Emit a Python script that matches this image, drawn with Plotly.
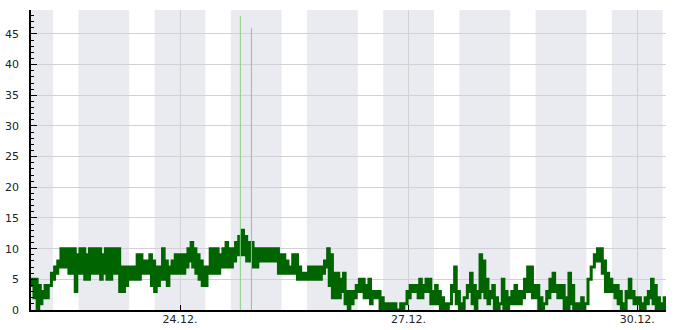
import pandas as pd
import plotly.graph_objects as go

# hourly envelope (low / high) of the series, hour index from 2019-12-22 00:00
hours = list(range(1, 202))
low = [4, 2, 0, 1, 2, 2, 4, 5, 6, 7, 7, 7, 6, 6, 3, 6, 6, 5, 5, 6, 6, 6, 5, 6,
       5, 5, 6, 6, 3, 3, 4, 5, 5, 5, 5, 6, 6, 6, 4, 3, 4, 5, 5, 4, 6, 6, 6, 6,
       6, 7, 8, 7, 6, 5, 4, 4, 6, 6, 6, 6, 7, 7, 7, 7, 8, 9, 9, 9, 8, 8, 7, 7,
       8, 8, 8, 8, 8, 8, 6, 6, 6, 6, 6, 6, 5, 5, 5, 5, 5, 5, 5, 5, 6, 7, 4, 2,
       2, 2, 3, 1, 0, 1, 2, 3, 3, 2, 2, 1, 2, 2, 0, 0, 0, 0, 0, 0, 0, 0, 1, 2,
       3, 3, 2, 2, 3, 3, 1, 1, 1, 0, 0, 0, 1, 3, 1, 0, 0, 2, 3, 1, 0, 2, 3, 2,
       1, 2, 0, 0, 1, 0, 0, 1, 1, 1, 1, 2, 3, 3, 2, 2, 0, 0, 1, 2, 3, 3, 2, 2,
       0, 0, 1, 0, 0, 0, 0, 1, 5, 7, 8, 8, 6, 3, 3, 3, 2, 1, 0, 0, 2, 2, 1, 1,
       0, 0, 1, 2, 1, 0, 0, 0, 0]
high = [5, 5, 4, 3, 4, 4, 6, 7, 8, 10, 10, 10, 10, 10, 9, 10, 10, 9, 10, 10, 10, 10, 9, 10,
        10, 10, 10, 10, 7, 7, 7, 7, 7, 9, 9, 8, 8, 9, 8, 7, 7, 10, 8, 7, 8, 9, 9, 9,
        9, 10, 11, 10, 9, 8, 7, 7, 10, 10, 10, 9, 10, 11, 10, 10, 11, 12, 13, 12, 11, 11, 10, 10,
        10, 10, 10, 10, 10, 10, 9, 9, 8, 7, 9, 9, 7, 6, 6, 7, 7, 7, 7, 7, 8, 10, 9, 6,
        6, 5, 6, 3, 3, 3, 4, 5, 5, 4, 5, 3, 3, 3, 2, 1, 1, 1, 1, 0, 1, 1, 3, 4,
        4, 4, 5, 4, 5, 5, 3, 4, 3, 2, 1, 1, 4, 7, 3, 1, 2, 4, 6, 4, 3, 9, 8, 5,
        3, 4, 2, 1, 5, 3, 2, 3, 4, 3, 3, 5, 7, 7, 4, 4, 2, 1, 3, 5, 6, 4, 4, 4,
        2, 6, 4, 1, 1, 2, 1, 5, 7, 9, 10, 10, 8, 6, 5, 4, 4, 3, 1, 3, 5, 3, 2, 2,
        1, 2, 3, 5, 4, 2, 1, 2, 1]

# event markers
event_times = ["2019-12-24 19:00", "2019-12-24 22:30"]
event_values = [47.9, 46.0]
event_colors = ["#7fd37f", "#8fc48f"]

# night shading (16:00 -> 08:00)
night_days = pd.date_range("2019-12-21", "2019-12-29", freq="D")

base = pd.Timestamp("2019-12-22 00:00")
xs, ys = [], []
for h, lo, hi in zip(hours, low, high):
    t = base + pd.Timedelta(hours=h)
    xs += [t, t + pd.Timedelta(minutes=30)]
    ys += [lo, hi]

fig = go.Figure()
fig.add_trace(go.Scatter(x=xs, y=ys, mode="lines", line_shape="hv",
                         line=dict(color="#006400", width=3), showlegend=False,
                         hoverinfo="skip"))
for t, v, c in zip(event_times, event_values, event_colors):
    fig.add_trace(go.Scatter(x=[t, t], y=[0, v], mode="lines",
                             line=dict(color=c, width=1), showlegend=False))

for d in night_days:
    fig.add_shape(type="rect", xref="x", yref="paper",
                  x0=d + pd.Timedelta(hours=16), x1=d + pd.Timedelta(hours=32),
                  y0=0, y1=1, fillcolor="#eaebf0", line_width=0, layer="below")

font = dict(family="DejaVu Sans", size=11, color="#222")
fig.update_layout(
    width=685, height=330, margin=dict(l=31, r=19, t=10, b=20),
    paper_bgcolor="white", plot_bgcolor="white", font=font, showlegend=False,
    xaxis=dict(range=["2019-12-22 01:04", "2019-12-30 09:04"], automargin=False,
               tick0="2019-12-24", dtick=3 * 86400000, tickformat="%d.%m.",
               showgrid=True, gridcolor="#d2d2d6", gridwidth=1,
               ticks="inside", ticklen=5, tickcolor="black",
               showline=True, linecolor="black", linewidth=1.5,
               zeroline=False, tickfont=font, ticklabelstandoff=-2),
    yaxis=dict(range=[0, 48.9], dtick=5, tick0=0, automargin=False,
               showgrid=True, gridcolor="#d2d2d6", gridwidth=1,
               ticks="inside", ticklen=6, tickcolor="black",
               minor=dict(dtick=1, ticks="inside", ticklen=3, tickcolor="black", showgrid=False),
               showline=True, linecolor="black", linewidth=1.5,
               zeroline=False, tickfont=font, ticklabelstandoff=8),
)
fig.write_html("out.html")
